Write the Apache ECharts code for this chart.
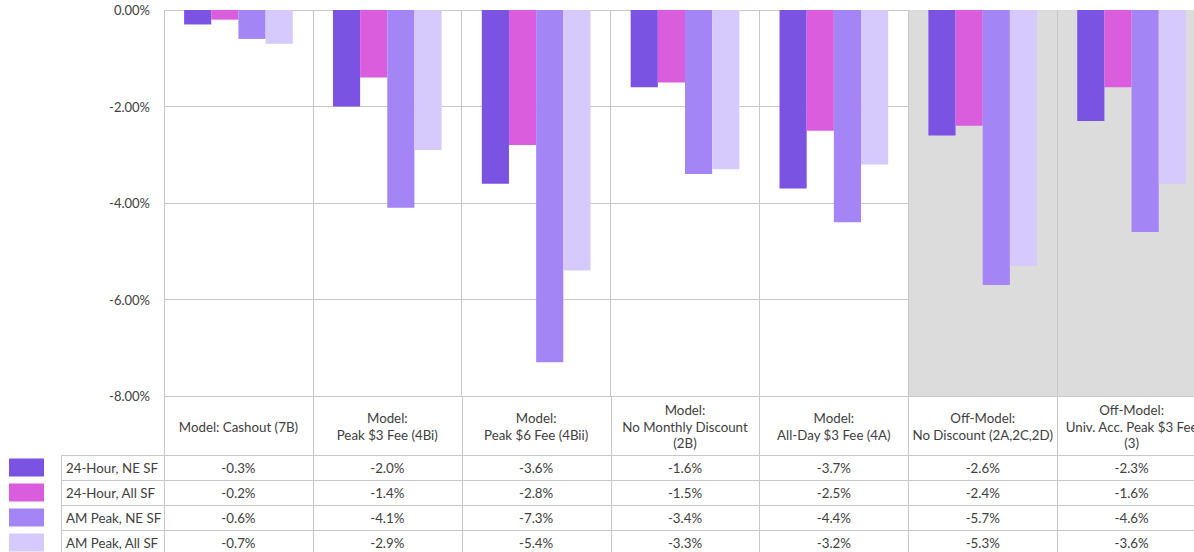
<!DOCTYPE html>
<html>
<head>
<meta charset="utf-8">
<script src="https://cdn.jsdelivr.net/npm/echarts@6/dist/echarts.min.js"></script>
<style>
    html, body { margin: 0; padding: 0; background: #fff; overflow: hidden; }
    #chart { width: 1194px; height: 552px; }
</style>
</head>
<body>
<div id="chart"></div>
<script>
// categories (x axis / table header)
const categories = [
    'Model: Cashout (7B)',
    'Model:\nPeak $3 Fee (4Bi)',
    'Model:\nPeak $6 Fee (4Bii)',
    'Model:\nNo Monthly Discount\n(2B)',
    'Model:\nAll-Day $3 Fee (4A)',
    'Off-Model:\nNo Discount (2A,2C,2D)',
    'Off-Model:\nUniv. Acc. Peak $3 Fee\n(3)'
]
const seriesNames = ['24-Hour, NE SF', '24-Hour, All SF', 'AM Peak, NE SF', 'AM Peak, All SF']
const hourNE = [-0.3, -2.0, -3.6, -1.6, -3.7, -2.6, -2.3]
const hourAll = [-0.2, -1.4, -2.8, -1.5, -2.5, -2.4, -1.6]
const peakNE = [-0.6, -4.1, -7.3, -3.4, -4.4, -5.7, -4.6]
const peakAll = [-0.7, -2.9, -5.4, -3.3, -3.2, -5.3, -3.6]
const offModelFlags = [false, false, false, false, false, true, true]

const colors = ['#7b53e3', '#d95ddd', '#a385f5', '#d6c9fb']
const seriesValues = [hourNE, hourAll, peakNE, peakAll]
const font = 'Lato, "Open Sans", sans-serif'
const textColor = '#404040'
const lineColor = '#c8c8c8'
const tableFontSize = 13.3

const gridTop = 10
const gridHeight = 386
const headerHeight = 59
const rowHeight = 25

const dom = document.getElementById('chart')
const chart = echarts.init(dom, null, { renderer: 'svg' })

const option = {
    animation: false,
    color: colors,
    grid: {
        left: 164,
        top: gridTop,
        width: 1042,
        height: gridHeight,
        containLabel: false,
        outerBoundsMode: 'none'
    },
    xAxis: {
        type: 'category',
        data: categories,
        position: 'bottom',
        axisLine: { show: false, onZero: false },
        axisTick: { show: false },
        axisLabel: {
            interval: 0,
            margin: headerHeight / 2 + 1,
            verticalAlign: 'middle',
            align: 'center',
            fontFamily: font,
            fontSize: tableFontSize,
            lineHeight: 16.5,
            color: textColor
        },
        splitLine: { show: true, lineStyle: { color: lineColor, width: 1 } },
        splitArea: {
            show: true,
            areaStyle: {
                color: offModelFlags.map(f => f ? '#dcdcdc' : 'rgba(0,0,0,0)')
            }
        }
    },
    yAxis: {
        type: 'value',
        min: -8,
        max: 0,
        interval: 2,
        axisLine: { show: false },
        axisTick: { show: false },
        axisLabel: {
            margin: 14,
            fontFamily: font,
            fontSize: 13,
            color: textColor,
            formatter: v => v.toFixed(2) + '%'
        },
        splitLine: { lineStyle: { color: lineColor, width: 1 } }
    },
    series: seriesNames.map((name, i) => ({
        name,
        type: 'bar',
        data: seriesValues[i],
        barGap: 0,
        barCategoryGap: '27%',
        itemStyle: { color: colors[i] }
    }))
}

chart.setOption(option)

// data table below the plot
const buildTable = () => {
    const c0 = chart.convertToPixel({ xAxisIndex: 0 }, categories[0])
    const c1 = chart.convertToPixel({ xAxisIndex: 0 }, categories[1])
    const band = c1 - c0
    const tableTop = gridTop + gridHeight
    const rowsTop = tableTop + headerHeight
    const tableBottom = rowsTop + rowHeight * seriesNames.length
    const labelLeft = 61
    const rightEdge = c0 - band / 2 + band * categories.length
    let els = []

    // vertical lines through header and rows
    for (let i = 0; i <= categories.length; i++) {
        const x = Math.round(c0 - band / 2 + band * i) + 0.5
        els.push({
            type: 'line',
            shape: { x1: x, y1: tableTop, x2: x, y2: tableBottom },
            style: { stroke: lineColor, lineWidth: 1 }
        })
    }
    els.push({
        type: 'line',
        shape: { x1: labelLeft + 0.5, y1: rowsTop, x2: labelLeft + 0.5, y2: tableBottom },
        style: { stroke: lineColor, lineWidth: 1 }
    })
    // horizontal lines
    for (let r = 0; r <= seriesNames.length; r++) {
        const y = rowsTop + rowHeight * r + 0.5
        els.push({
            type: 'line',
            shape: { x1: labelLeft, y1: y, x2: rightEdge, y2: y },
            style: { stroke: lineColor, lineWidth: 1 }
        })
    }
    // rows: swatch, label, values
    seriesNames.forEach((name, r) => {
        const cy = rowsTop + rowHeight * r + rowHeight / 2
        els.push({
            type: 'rect',
            shape: { x: 9, y: cy - 9, width: 35, height: 18 },
            style: { fill: colors[r] }
        })
        els.push({
            type: 'text',
            x: labelLeft + 5,
            y: cy,
            style: {
                text: name,
                fill: textColor,
                font: tableFontSize + 'px ' + font,
                textAlign: 'left',
                textVerticalAlign: 'middle'
            }
        })
        seriesValues[r].forEach((v, i) => {
            els.push({
                type: 'text',
                x: c0 + band * i,
                y: cy,
                style: {
                    text: v.toFixed(1) + '%',
                    fill: textColor,
                    font: tableFontSize + 'px ' + font,
                    textAlign: 'center',
                    textVerticalAlign: 'middle'
                }
            })
        })
    })
    chart.setOption({ graphic: els })
}

buildTable()
</script>
</body>
</html>
